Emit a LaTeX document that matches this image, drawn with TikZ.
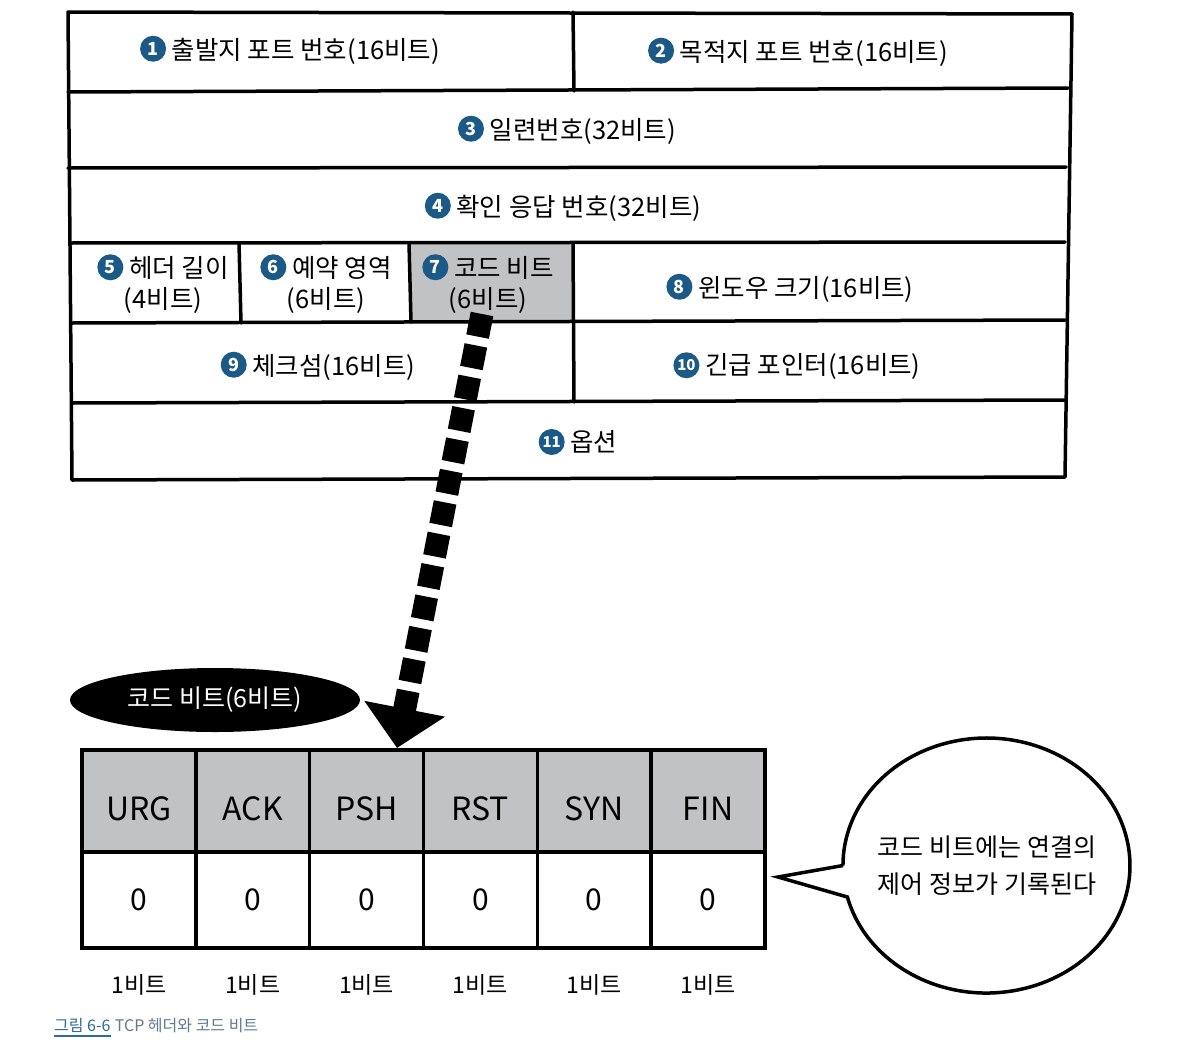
\documentclass[tikz,border=0pt]{standalone}
\usepackage{fontspec}
\setmainfont{Noto Sans CJK KR}
\usetikzlibrary{arrows.meta,shapes.geometric}
\definecolor{numblue}{HTML}{1B5A86}
\definecolor{cellgray}{HTML}{C1C2C4}
\definecolor{capblue}{HTML}{2E6A9A}
\definecolor{capgray}{HTML}{5F7A94}
\newcommand\cnum[2][18]{\tikz[baseline={([yshift=-4pt]cnx.base)}]\node[circle,fill=numblue,text=white,inner sep=0pt,minimum size=26pt,font=\fontsize{#1}{#1}\selectfont\bfseries](cnx){#2};}
\tikzset{
  tbl/.style={line width=3.5pt, line cap=round, line join=round},
  lbl/.style={font=\fontsize{25.5}{31}\selectfont, align=center, inner sep=0pt},
  hcell/.style={draw, line width=3.5pt, fill=cellgray, minimum width=113.8pt, minimum height=102pt, inner sep=0pt},
  vcell/.style={draw, line width=3.5pt, fill=white, minimum width=113.8pt, minimum height=96pt, inner sep=0pt, font=\fontsize{30}{30}\selectfont},
  htxt/.style={inner sep=0pt, font=\fontsize{32}{32}\selectfont},
  bitlbl/.style={font=\fontsize{23}{23}\selectfont, inner sep=0pt}
}
\begin{document}
\begin{tikzpicture}[x=1pt,y=-1pt]
\useasboundingbox (0,0) rectangle (1197,1044);
\fill[white] (0,0) rectangle (1197,1044);

% ---- gray code-bit cell of the header ----
\node[fill=cellgray, minimum width=164pt, minimum height=78pt, inner sep=0pt] (c7) at (491,282) {};

% ---- header table ----
\draw[tbl] (68,12) -- (1072,14) -- (1065,477) -- (72,480) -- cycle;
\draw[tbl] (68,92) -- (1068,88);
\draw[tbl] (68,168) -- (1066,167);
\draw[tbl] (70,243) -- (1065,242);
\draw[tbl] (72,323) -- (1065,320);
\draw[tbl] (72,403) -- (1065,400);
\draw[tbl] (573,12) -- (574,91);
\draw[tbl] (239,243) -- (241,323);
\draw[tbl] (409,243) -- (411,322);
\draw[tbl] (573,243) -- (574,402);

% ---- header labels ----
\node[lbl] (f1) at (290,50) {\cnum{1} 출발지 포트 번호(16비트)};
\node[lbl] (f2) at (798,52) {\cnum{2} 목적지 포트 번호(16비트)};
\node[lbl] (f3) at (567,130) {\cnum{3} 일련번호(32비트)};
\node[lbl] (f4) at (563,207) {\cnum{4} 확인 응답 번호(32비트)};
\node[lbl] (f5) at (163,284) {\cnum{5} 헤더 길이\\(4비트)};
\node[lbl] (f6) at (326,284) {\cnum{6} 예약 영역\\(6비트)};
\node[lbl] (f7) at (488,284) {\cnum{7} 코드 비트\\(6비트)};
\node[lbl] (f8) at (790,288) {\cnum{8} 윈도우 크기(16비트)};
\node[lbl] (f9) at (318,366) {\cnum{9} 체크섬(16비트)};
\node[lbl] (f10) at (797,366) {\cnum[15]{10} 긴급 포인터(16비트)};
\node[lbl] (f11) at (578,442) {\cnum[15]{11} 옵션};

% ---- code bit table ----
\foreach \n/\t [count=\i] in {h1/URG,h2/ACK,h3/PSH,h4/RST,h5/SYN,h6/FIN}{
  \node[hcell] (\n) at ({82+113.83*(\i-0.5)},801) {};
  \node[htxt] (t\i) at ({82+113.83*(\i-0.5)},809) {\t};
}
\foreach \i in {1,...,6}{
  \node[vcell] (v\i) at ({82+113.83*(\i-0.5)},900) {0};
  \node[bitlbl] (b\i) at ({82+113.83*(\i-0.5)},985) {1비트};
}

% ---- dashed arrow ----
\coordinate (a1) at (482,314);
\coordinate (a2) at (397,748);
\draw[line width=23pt, dash pattern=on 23pt off 9pt, line cap=butt,
      -{Triangle[width=80pt,length=40pt]}] (a1) -- (a2);

% ---- black ellipse ----
\node[ellipse, fill=black, minimum width=290pt, minimum height=64pt, text=white,
      font=\fontsize{25}{25}\selectfont] (cb) at (215,700) {코드 비트(6비트)};

% ---- speech bubble ----
\coordinate (tip) at (778,877);
\draw[line width=3.5pt, line join=miter, fill=white]
  (843,865.5) -- (tip) -- (847.4,897.0)
  arc[start angle=165.7, end angle=-180, x radius=143.5, y radius=127.5] -- cycle;
\node[align=center, font=\fontsize{25}{37}\selectfont, inner sep=0pt] (bt) at (987,866)
  {코드 비트에는 연결의\\제어 정보가 기록된다};

% ---- caption ----
\node[anchor=base west, inner sep=0pt, text=capblue, font=\fontsize{16}{16}\selectfont] (cap1) at (54,1031) {그림 6-6};
\node[anchor=base west, inner sep=0pt, text=capgray, font=\fontsize{16}{16}\selectfont] (cap2) at ([xshift=4pt]cap1.base east) {TCP 헤더와 코드 비트};
\draw[capblue, line width=2.5pt] ([yshift=-5pt]cap1.base west) -- ([yshift=-5pt]cap1.base east);
\end{tikzpicture}
\end{document}
